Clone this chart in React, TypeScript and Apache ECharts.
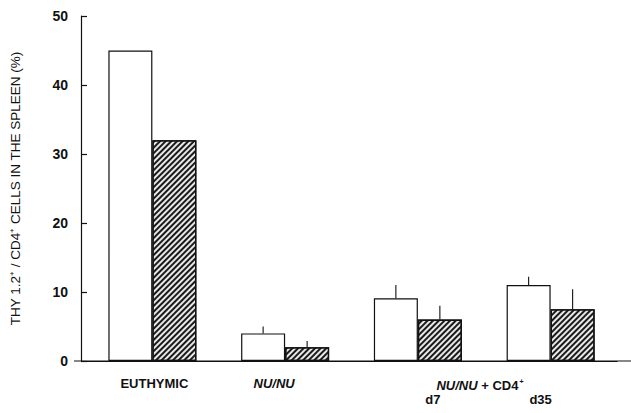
import React, { useEffect, useRef } from "react";
import * as echarts from "echarts";

const categories = ["EUTHYMIC", "NU/NU", "d7", "d35"];
const plainValues = [45, 4, 9.1, 11];
const plainErrorTop: (number | null)[] = [null, 5, 11, 12.2];
const hatchedValues = [32, 2, 6, 7.5];
const hatchedErrorTop: (number | null)[] = [null, 2.9, 8, 10.4];
const yMin = 0;
const yMax = 50;
const yInterval = 10;
const yTitle = "THY 1.2\u207A / CD4\u207A CELLS IN THE SPLEEN (%)";
const groupLabel = "NU/NU + CD4";

const FONT = "'Liberation Sans', Arial, Helvetica, sans-serif";
const BAR_W = 44;

function errData(vals: number[], tops: (number | null)[]) {
  const out: number[][] = [];
  tops.forEach((t, i) => {
    if (t != null) out.push([i, vals[i], t]);
  });
  return out;
}

function makeErr(offset: number) {
  return (params: any, api: any) => {
    const p0 = api.coord([api.value(0), api.value(1)]);
    const p1 = api.coord([api.value(0), api.value(2)]);
    return {
      type: "line",
      shape: { x1: p0[0] + offset, y1: p0[1], x2: p0[0] + offset, y2: p1[1] },
      style: { stroke: "#111", lineWidth: 1.1 },
    };
  };
}

export default function App() {
  const ref = useRef<HTMLDivElement>(null);
  useEffect(() => {
    document.body.style.margin = "0";
    if (!ref.current) return;
    const chart = echarts.init(ref.current, null, { renderer: "svg" });
    const labelKeys = ["e", "n", "a", "b"];
    chart.setOption({
      animation: false,
      backgroundColor: "#fff",
      grid: { left: 79, top: 16, width: 538, bottom: 52 },
      xAxis: {
        type: "category",
        data: categories,
        axisLine: { lineStyle: { color: "#111", width: 1.2 } },
        axisTick: { show: false },
        axisLabel: {
          margin: 16,
          interval: 0,
          formatter: (v: string, i: number) => `{${labelKeys[i]}|${v}}`,
          rich: {
            e: { fontFamily: FONT, fontWeight: "bold", fontSize: 13, color: "#111", padding: [0, 0, 0, 4] },
            n: { fontFamily: FONT, fontWeight: "bold", fontStyle: "italic", fontSize: 13, color: "#111", padding: [0, 22, 0, 0] },
            a: { fontFamily: FONT, fontWeight: "bold", fontSize: 13, color: "#111", padding: [16, 0, 0, 30] },
            b: { fontFamily: FONT, fontWeight: "bold", fontSize: 13, color: "#111", padding: [16, 20, 0, 0] },
          },
        },
      },
      yAxis: {
        type: "value",
        min: yMin,
        max: yMax,
        interval: yInterval,
        offset: 5,
        name: yTitle,
        nameLocation: "middle",
        nameGap: 59,
        nameTextStyle: { fontFamily: FONT, fontSize: 13.5, color: "#111" },
        axisLine: { show: true, lineStyle: { color: "#111", width: 1.2 } },
        axisTick: { show: true, inside: true, length: 6, lineStyle: { color: "#111", width: 1.2 } },
        splitLine: { show: false },
        axisLabel: { margin: 13, fontFamily: FONT, fontWeight: "bold", fontSize: 14, color: "#111" },
      },
      series: [
        {
          type: "bar",
          data: plainValues,
          barWidth: BAR_W,
          barGap: "0%",
          itemStyle: { color: "#fff", borderColor: "#111", borderWidth: 1.2 },
        },
        {
          type: "bar",
          data: hatchedValues,
          barWidth: BAR_W,
          barGap: "0%",
          itemStyle: {
            color: "#e8e8e8",
            borderColor: "#111",
            borderWidth: 1.3,
            decal: {
              symbol: "rect",
              symbolSize: 1,
              dashArrayX: [1, 0],
              dashArrayY: [2, 1.2],
              rotation: -Math.PI / 4,
              color: "#1a1a1a",
            },
          },
        },
        {
          type: "custom",
          renderItem: makeErr(-BAR_W / 2),
          data: errData(plainValues, plainErrorTop),
          encode: { x: 0, y: [1, 2] },
          z: 5,
        },
        {
          type: "custom",
          renderItem: makeErr(BAR_W / 2),
          data: errData(hatchedValues, hatchedErrorTop),
          encode: { x: 0, y: [1, 2] },
          z: 5,
        },
      ],
      graphic: [
        {
          type: "line",
          shape: { x1: 74, y1: 361, x2: 631, y2: 361 },
          style: { stroke: "#111", lineWidth: 1.2 },
          z: 10,
        },
        {
          type: "text",
          x: 480,
          y: 385,
          style: {
            text: `{i|NU/NU}{n| + ${groupLabel.replace("NU/NU + ", "")}}{s|+}`,
            align: "center",
            verticalAlign: "middle",
            rich: {
              i: { fontFamily: FONT, fontStyle: "italic", fontWeight: "bold", fontSize: 13, fill: "#111" },
              n: { fontFamily: FONT, fontWeight: "bold", fontSize: 13, fill: "#111" },
              s: { fontFamily: FONT, fontWeight: "bold", fontSize: 7, fill: "#111", padding: [0, 0, 8, 1] },
            },
          },
        },
      ],
    });
    return () => chart.dispose();
  }, []);
  return <div ref={ref} style={{ width: 631, height: 413 }} />;
}
